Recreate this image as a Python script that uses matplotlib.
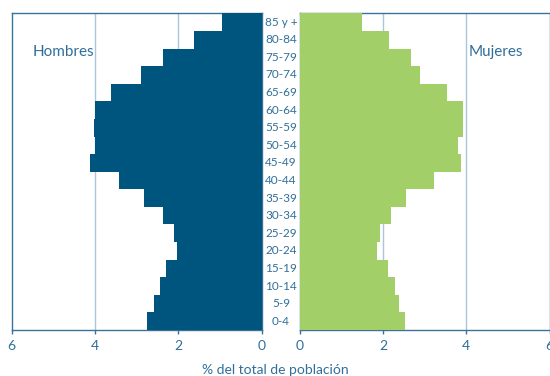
import matplotlib.pyplot as plt
import matplotlib.transforms as mtransforms
import numpy as np

plt.rcParams['font.family'] = ['Lato', 'DejaVu Sans']

# Age groups, youngest first
grupos = ['0-4', '5-9', '10-14', '15-19', '20-24', '25-29', '30-34', '35-39',
          '40-44', '45-49', '50-54', '55-59', '60-64', '65-69', '70-74',
          '75-79', '80-84', '85 y +']
hombres = [2.75, 2.58, 2.45, 2.30, 2.04, 2.10, 2.38, 2.82,
           3.42, 4.12, 4.01, 4.02, 4.00, 3.61, 2.89, 2.36, 1.62, 0.95]
mujeres = [2.52, 2.38, 2.28, 2.12, 1.85, 1.93, 2.18, 2.56,
           3.23, 3.86, 3.81, 3.91, 3.93, 3.53, 2.88, 2.66, 2.13, 1.50]
ticks = [0, 2, 4, 6]

azul = '#00557f'
verde = '#a2cf67'
texto = '#2f6f9a'
borde = '#3a7299'
rejilla = '#a9c6de'

fig = plt.figure(figsize=(5.5, 3.76), dpi=100)
ax_h = fig.add_axes([0.0213, 0.1223, 0.4545, 0.842])
ax_m = fig.add_axes([0.5455, 0.1223, 0.4536, 0.842])

y = np.arange(len(grupos))
ax_h.barh(y, hombres, height=1.0, color=azul, linewidth=0, zorder=3)
ax_m.barh(y, mujeres, height=1.0, color=verde, linewidth=0, zorder=3)

ax_h.set_xlim(6, 0)
ax_m.set_xlim(0, 6)

for ax in (ax_h, ax_m):
    ax.set_ylim(-0.5, len(grupos) - 0.5)
    ax.set_yticks([])
    ax.set_xticks(ticks)
    ax.set_xticklabels([str(t) for t in ticks])
    ax.tick_params(axis='x', colors=borde, labelcolor=texto, labelsize=10,
                   length=3, width=1, pad=4)
    for t in (2, 4):
        ax.axvline(t, color=rejilla, linewidth=1, zorder=1)
    for s in ax.spines.values():
        s.set_color(borde)
        s.set_linewidth(1)

ax_h.text(0.085, 0.878, 'Hombres', transform=ax_h.transAxes, fontsize=11,
          color=texto, va='center', ha='left')
ax_m.text(0.677, 0.878, 'Mujeres', transform=ax_m.transAxes, fontsize=11,
          color=texto, va='center', ha='left')

# age labels sit in the gap between the two panels
trans = mtransforms.blended_transform_factory(fig.transFigure, ax_h.transData)
for yi, g in zip(y, grupos):
    ax_h.text(0.511, yi, g, transform=trans, ha='center', va='center',
              fontsize=8.5, color=texto, clip_on=False)

fig.text(0.5, 0.016, '% del total de población', ha='center', va='center',
         fontsize=10, color=texto)

plt.savefig('out.png', dpi=100)
